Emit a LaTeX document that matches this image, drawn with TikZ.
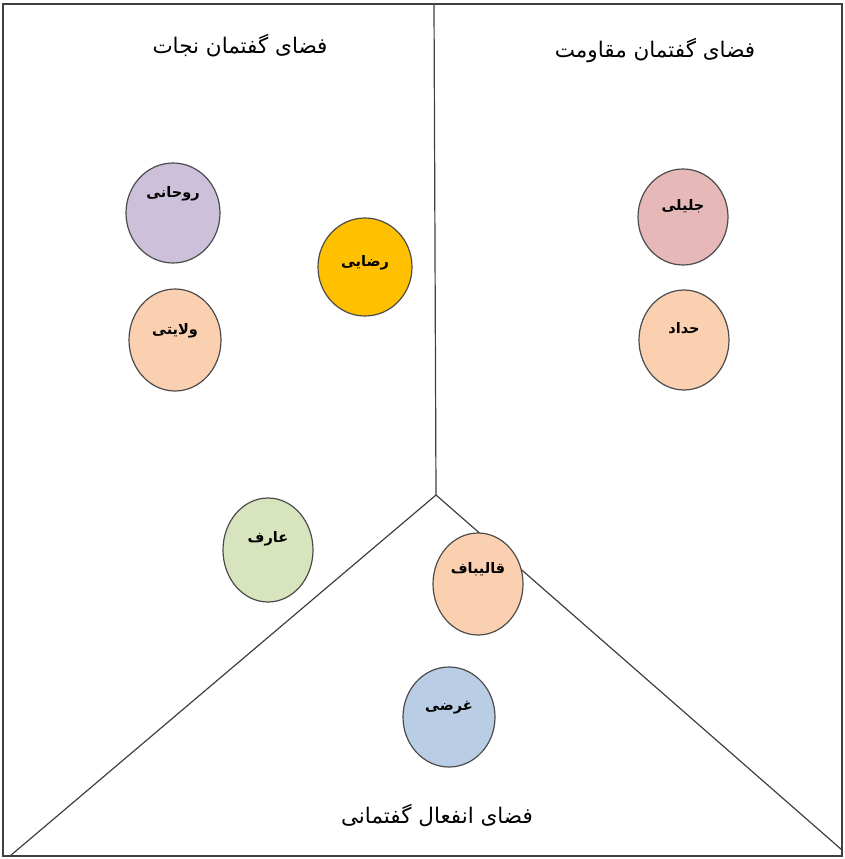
\documentclass[tikz,border=0pt]{standalone}
\usepackage{fontspec}
\usetikzlibrary{shapes.geometric}
\TeXXeTstate=1
\newfontfamily\arabicfont[Script=Arabic]{DejaVu Sans}
\definecolor{cpurple}{HTML}{CCC0DA}
\definecolor{cgold}{HTML}{FFC000}
\definecolor{cpeach}{HTML}{FAD0B0}
\definecolor{cpink}{HTML}{E6B9B8}
\definecolor{cgreen}{HTML}{D7E4BD}
\definecolor{cblue}{HTML}{B9CDE5}
\definecolor{lineg}{HTML}{404040}
\tikzset{
  person/.style={ellipse, draw=black!70, line width=1.2pt, inner sep=0pt},
  pname/.style={font=\arabicfont\bfseries\fontsize{14.5}{16}\selectfont, inner sep=0pt},
  ttl/.style={font=\arabicfont\fontsize{21.5}{24}\selectfont, inner sep=0pt},
  divider/.style={draw=lineg, line width=1.2pt}
}
\begin{document}
\begin{tikzpicture}[x=1pt,y=-1pt]
\useasboundingbox (0,0) rectangle (845,859);
\fill[white] (0,0) rectangle (845,859);
\draw[divider] (3,4) rectangle (842,856);
\coordinate (top) at (434,4);
\coordinate (hub) at (436,495);
\coordinate (bl) at (10,856);
\coordinate (br) at (842,850);
\draw[divider] (top) -- (hub);
\draw[divider] (hub) -- (bl);
\draw[divider] (hub) -- (br);

\node[ttl] (t1) at (240,46) {\beginR فضای گفتمان نجات\endR};
\node[ttl] (t2) at (655,50) {\beginR فضای گفتمان مقاومت\endR};
\node[ttl] (t3) at (437,815) {\beginR فضای انفعال گفتمانی\endR};

\node[person, fill=cpurple, minimum width=94pt, minimum height=100pt] (roh) at (173,213) {};
\node[pname] at ([yshift=19pt]roh.center) {\beginR روحانی\endR};
\node[person, fill=cgold, minimum width=94pt, minimum height=98pt] (rez) at (365,267) {};
\node[pname] at ([yshift=4pt]rez.center) {\beginR رضایی\endR};
\node[person, fill=cpeach, minimum width=92pt, minimum height=102pt] (vel) at (175,340) {};
\node[pname] at ([yshift=9pt]vel.center) {\beginR ولایتی\endR};
\node[person, fill=cpink, minimum width=90pt, minimum height=96pt] (jal) at (683,217) {};
\node[pname] at ([yshift=11pt]jal.center) {\beginR جلیلی\endR};
\node[person, fill=cpeach, minimum width=90pt, minimum height=100pt] (had) at (684,340) {};
\node[pname] at ([yshift=12pt]had.center) {\beginR حداد\endR};
\node[person, fill=cgreen, minimum width=90pt, minimum height=104pt] (are) at (268,550) {};
\node[pname] at ([yshift=11pt]are.center) {\beginR عارف\endR};
\node[person, fill=cpeach, minimum width=90pt, minimum height=102pt] (gha) at (478,584) {};
\node[pname] at ([yshift=15pt]gha.center) {\beginR قالیباف\endR};
\node[person, fill=cblue, minimum width=92pt, minimum height=100pt] (ghr) at (449,717) {};
\node[pname] at ([yshift=9pt]ghr.center) {\beginR غرضی\endR};
\end{tikzpicture}
\end{document}
